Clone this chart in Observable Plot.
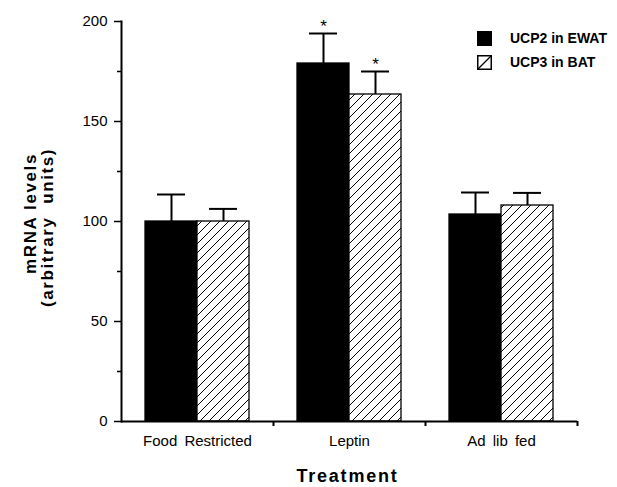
<!DOCTYPE html>
<html><head><meta charset="utf-8">
<script src="https://cdn.jsdelivr.net/npm/d3@7"></script>
<script src="https://cdn.jsdelivr.net/npm/@observablehq/plot@0.6"></script>
<style>
body{margin:0;background:#fff;}
#wrap{position:relative;width:617px;height:487px;}
.legend{position:absolute;left:477px;top:26px;font:bold 14px "Liberation Sans",Arial,sans-serif;color:#000;}
.legend .item{display:flex;align-items:center;height:24px;}
.legend svg{margin-right:18px;display:block;}
</style></head><body><div id="wrap"></div>
<script>
const treatments = ["Food Restricted", "Leptin", "Ad lib fed"];
const series = ["UCP2 in EWAT", "UCP3 in BAT"];
const ucp2 = [100, 179, 103.5];
const ucp2Err = [13.5, 15, 11];
const ucp2Sig = ["", "*", ""];
const ucp3 = [100, 163.5, 108];
const ucp3Err = [6.3, 11.5, 6.3];
const ucp3Sig = ["", "*", ""];
const yTicks = [0, 50, 100, 150, 200];
const yMinorTicks = [25, 75, 125, 175];
const yLabel1 = "mRNA levels";
const yLabel2 = "(arbitrary  units)";
const xLabel = "Treatment";

const data = treatments.flatMap((t, i) => [
  {treatment: t, series: series[0], value: ucp2[i], err: ucp2Err[i], sig: ucp2Sig[i]},
  {treatment: t, series: series[1], value: ucp3[i], err: ucp3Err[i], sig: ucp3Sig[i]}
]);

const W = 617, H = 487, ML = 121, MR = 40, MT = 21, MB = 66;
const bw = (W - ML - MR) / treatments.length;
const font = '"Liberation Sans", Arial, sans-serif';

const svg = Plot.plot({
  width: W, height: H,
  marginLeft: ML, marginRight: MR, marginTop: MT, marginBottom: MB,
  style: {fontFamily: font, fontSize: "15px", background: "#fff", color: "#000", overflow: "visible"},
  fx: {domain: treatments, padding: 0, label: null},
  x: {domain: series, paddingInner: 0, paddingOuter: 0.46, axis: null},
  y: {domain: [0, 200], axis: null},
  color: {domain: series, range: ["#000", "url(#hatch)"]},
  marks: [
    Plot.barY(data, {fx: "treatment", x: "series", y: "value", fill: "series", stroke: "#000", strokeWidth: 1.3}),
    Plot.ruleX(data, {fx: "treatment", x: "series", y1: "value", y2: d => d.value + d.err, stroke: "#000", strokeWidth: 2}),
    Plot.tickY(data, {fx: "treatment", x: "series", y: d => d.value + d.err, stroke: "#000", strokeWidth: 2, insetLeft: 12, insetRight: 12}),
    Plot.text(data, {fx: "treatment", x: "series", y: d => d.value + d.err, text: "sig", dy: -7, fontSize: 17, fill: "#000"}),
    Plot.ruleY([0], {stroke: "#000", strokeWidth: 2}),
    Plot.frame({anchor: "left", facetAnchor: "left", stroke: "#000", strokeWidth: 2}),
    Plot.axisY({ticks: yTicks, tickSize: 7, tickPadding: 7, fontSize: 15, label: null, strokeWidth: 1.5}),
    Plot.axisY({ticks: yMinorTicks, tickSize: 4, tickFormat: () => "", label: null, strokeWidth: 1.5}),
    Plot.axisFx({anchor: "bottom", tickSize: 0, tickPadding: 14, fontSize: 15, label: null}),
    Plot.axisFx({anchor: "bottom", tickSize: 5, tickFormat: () => "", label: null, dx: bw / 2, strokeWidth: 2}),
    Plot.text([yLabel1], {frameAnchor: "left", textAnchor: "middle", rotate: -90, dx: -91, dy: -8, facetAnchor: "left", fontSize: 17, fontWeight: "bold", fill: "#000", text: d => d}),
    Plot.text([yLabel2], {frameAnchor: "left", textAnchor: "middle", rotate: -90, dx: -74, dy: 6, facetAnchor: "left", fontSize: 17, fontWeight: "bold", fill: "#000", text: d => d}),
    Plot.text([xLabel], {fx: () => treatments[1], frameAnchor: "bottom", dx: -2, dy: 60, fontSize: 18, fontWeight: "bold", fill: "#000", text: d => d})
  ]
});

const s = d3.select(svg);
const pat = s.insert("defs", ":first-child").append("pattern")
  .attr("id", "hatch").attr("patternUnits", "userSpaceOnUse")
  .attr("width", 9).attr("height", 9);
pat.append("rect").attr("width", 9).attr("height", 9).attr("fill", "#fff");
pat.append("path").attr("d", "M0,9L9,0M-2,2L2,-2M7,11L11,7").attr("stroke", "#000").attr("stroke-width", 1);

s.selectAll("text").each(function() {
  const t = this.textContent;
  if (t === yLabel1 || t === yLabel2) this.style.letterSpacing = "1.6px";
  if (t === xLabel) this.style.letterSpacing = "1.8px";
  if (treatments.includes(t)) this.style.wordSpacing = "3px";
});

const wrap = document.getElementById("wrap");
wrap.appendChild(svg);

const legend = document.createElement("div");
legend.className = "legend";
const swatches = [
  '<svg width="15" height="15"><rect x="0" y="0" width="15" height="15" fill="#000"/></svg>',
  '<svg width="15" height="15"><rect x="0.75" y="0.75" width="13.5" height="13.5" fill="#fff" stroke="#000" stroke-width="1.5"/><line x1="1" y1="14" x2="14" y2="1" stroke="#000" stroke-width="1.3"/></svg>'
];
series.forEach((name, i) => {
  const item = document.createElement("div");
  item.className = "item";
  item.innerHTML = swatches[i];
  const span = document.createElement("span");
  span.textContent = name;
  item.appendChild(span);
  legend.appendChild(item);
});
wrap.appendChild(legend);
</script>
</body></html>
